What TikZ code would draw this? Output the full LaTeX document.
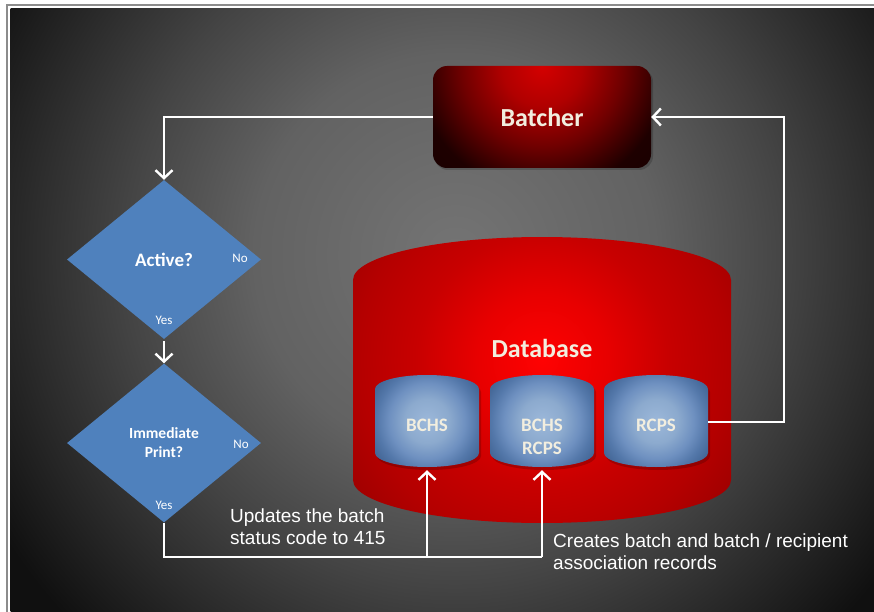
\documentclass[tikz,border=0pt]{standalone}
\usepackage{fontspec}
\setmainfont{Carlito}
\newfontfamily\annotfont{Liberation Sans}
\usetikzlibrary{shapes.geometric,arrows.meta}
\definecolor{bgA}{HTML}{747474}
\definecolor{bgB}{HTML}{626262}
\definecolor{bgC}{HTML}{444444}
\definecolor{bgD}{HTML}{252525}
\definecolor{bgE}{HTML}{101010}
\definecolor{baA}{HTML}{D40000}
\definecolor{baB}{HTML}{B00000}
\definecolor{baC}{HTML}{700000}
\definecolor{baD}{HTML}{420000}
\definecolor{baE}{HTML}{1E0000}
\definecolor{baF}{HTML}{120000}
\definecolor{dbA}{HTML}{FF0202}
\definecolor{dbB}{HTML}{E80000}
\definecolor{dbC}{HTML}{C80000}
\definecolor{dbD}{HTML}{B40000}
\definecolor{dbE}{HTML}{A00000}
\definecolor{cyA}{HTML}{9CB8DA}
\definecolor{cyB}{HTML}{8CAACE}
\definecolor{cyC}{HTML}{6E90C0}
\definecolor{cyD}{HTML}{5478AA}
\definecolor{cyE}{HTML}{456898}
\definecolor{decblue}{HTML}{4F81BD}
\definecolor{cream}{HTML}{F2EEDF}
\definecolor{bordgray}{HTML}{8C8C8C}
\pgfdeclareradialshading{bgshade}{\pgfpoint{0bp}{0bp}}{color(0bp)=(bgA); color(200bp)=(bgB); color(330bp)=(bgC); color(450bp)=(bgD); color(530bp)=(bgE); color(620bp)=(bgE)}
\pgfdeclareradialshading{batshade}{\pgfpoint{0bp}{0bp}}{color(0bp)=(baA); color(40bp)=(baB); color(80bp)=(baC); color(105bp)=(baD); color(125bp)=(baE); color(200bp)=(baF)}
\pgfdeclareradialshading{dbshade}{\pgfpoint{0bp}{0bp}}{color(0bp)=(dbA); color(65bp)=(dbB); color(125bp)=(dbC); color(185bp)=(dbD); color(230bp)=(dbE); color(300bp)=(dbE)}
\pgfdeclareradialshading{cylshade}{\pgfpoint{0bp}{0bp}}{color(0bp)=(cyA); color(22bp)=(cyB); color(38bp)=(cyC); color(50bp)=(cyD); color(60bp)=(cyE); color(80bp)=(cyE)}
\begin{document}
\begin{tikzpicture}[x=1pt,y=-1pt,
  arr/.style={draw=white,line width=2.4pt,-{Straight Barb[length=8pt,width=17pt,line width=2.4pt]}},
  wline/.style={draw=white,line width=2.4pt},
  decision/.style={diamond,fill=decblue,minimum width=194pt,minimum height=159pt,inner sep=0pt,text=white,align=center},
  yesno/.style={text=white,inner sep=0pt,font=\fontsize{13}{15}\selectfont},
  bigtext/.style={text=cream,inner sep=0pt,font=\fontsize{26}{30}\selectfont\bfseries},
  cyltext/.style={text=cream,inner sep=0pt,align=center,font=\fontsize{19}{23}\selectfont\bfseries},
  annot/.style={text=white,inner sep=0pt,align=left,font=\fontsize{19}{22}\selectfont\annotfont},
  anchorbox/.style={inner sep=0pt,minimum width=104pt,minimum height=96pt}
]
\useasboundingbox (0,0) rectangle (874,612);
\fill[white] (0,0) rectangle (874,612);
\draw[bordgray,line width=1.3pt] (7,620) -- (7,5) -- (880,5);
\begin{scope}
  \clip (10.5,9) rectangle (874,612);
  \pgftransformshift{\pgfpointxy{455}{255}}\pgflowlevelsynccm
  \pgfuseshading{bgshade}
\end{scope}

% Batcher
\fill[black,opacity=0.18,rounded corners=14pt] (434,68) rectangle (653,170);
\begin{scope}
  \clip[rounded corners=14pt] (433,66) rectangle (651,168);
  \pgftransformshift{\pgfpointxy{542}{66}}\pgflowlevelsynccm
  \pgfuseshading{batshade}
\end{scope}
\node[rectangle,minimum width=218pt,minimum height=102pt,inner sep=0pt] (batcher) at (542,117) {};
\node[bigtext] (batcherlabel) at (542,117) {Batcher};

% Database cylinder
\begin{scope}
  \clip (353,280) arc[start angle=180,end angle=0,x radius=189pt,y radius=43pt]
    -- (731,480) arc[start angle=0,end angle=-180,x radius=189pt,y radius=43pt] -- cycle;
  \pgftransformshift{\pgfpointxy{542}{360}}\pgflowlevelsynccm
  \pgfuseshading{dbshade}
\end{scope}
\node[bigtext] (dblabel) at (542,348) {Database};

% small cylinders
\foreach \cx/\nm in {427/c1,542/c2,656/c3}{
  \fill[black,opacity=0.18] (\cx-50,392) arc[start angle=180,end angle=0,x radius=52pt,y radius=14pt]
    -- (\cx+54,456) arc[start angle=0,end angle=-180,x radius=52pt,y radius=14pt] -- cycle;
  \begin{scope}
    \clip (\cx-52,389) arc[start angle=180,end angle=0,x radius=52pt,y radius=14pt]
      -- (\cx+52,453) arc[start angle=0,end angle=-180,x radius=52pt,y radius=14pt] -- cycle;
    \pgftransformshift{\pgfpointxy{\cx}{421}}\pgflowlevelsynccm
    \pgfuseshading{cylshade}
  \end{scope}
  \node[anchorbox] (\nm) at (\cx,422) {};
}
\node[cyltext] (c1label) at (427,425) {BCHS};
\node[cyltext] (c2label) at (542,436.5) {BCHS\\RCPS};
\node[cyltext] (c3label) at (656,425) {RCPS};

% decisions
\node[decision,font=\fontsize{19}{22}\selectfont\bfseries] (d1) at (164,259.5) {Active?};
\node[decision,font=\fontsize{15.5}{19}\selectfont\bfseries] (d2) at (164,443) {Immediate\\Print?};
\node[yesno] (d1no) at (240,258) {No};
\node[yesno] (d1yes) at (164,320) {Yes};
\node[yesno] (d2no) at (241,444) {No};
\node[yesno] (d2yes) at (164,505) {Yes};

% connectors
\coordinate (j1) at (427,557);
\coordinate (j2) at (542,557);
\draw[arr] (batcher.west) -| (d1.north);
\draw[arr] ([yshift=-2pt]d1.south) -- (d2.north);
\draw[wline] (d2.south) |- (j2);
\draw[arr] (j1) -- (c1.south);
\draw[arr] (j2) -- (c2.south);
\draw[arr] (c3.east) -- ++(76,0) |- (batcher.east);

% annotations
\node[annot,anchor=north west] (t1) at (230,508.5) {Updates the batch\\status code to 415};
\node[annot,anchor=north west] (t2) at (553,533.5) {Creates batch and batch / recipient\\association records};
\end{tikzpicture}
\end{document}
